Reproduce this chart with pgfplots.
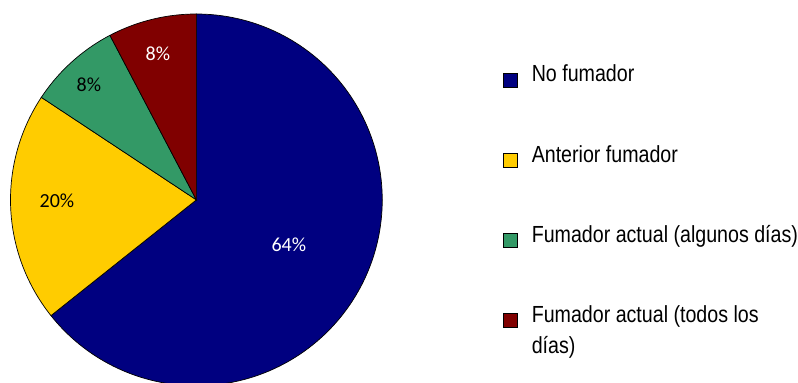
\documentclass[border=0pt]{standalone}
\usepackage{pgfplots}
\pgfplotsset{compat=1.18}
\usepackage{pgfplotstable}
\usepackage{fontspec}
\setmainfont{Liberation Sans}
\newfontfamily\legfont[FakeStretch=0.843]{Liberation Sans}
\newfontfamily\pctfont{Carlito}
\definecolor{cNo}{HTML}{000080}
\definecolor{cAnt}{HTML}{FFCC00}
\definecolor{cAlg}{HTML}{339966}
\definecolor{cTod}{HTML}{800000}

\pgfplotstableread{
cat value
0 64.3
1 20.0
2 8.0
3 7.7
}\pietable
\pgfplotstablegetelem{0}{value}\of\pietable \let\vA\pgfplotsretval
\pgfplotstablegetelem{1}{value}\of\pietable \let\vB\pgfplotsretval
\pgfplotstablegetelem{2}{value}\of\pietable \let\vC\pgfplotsretval
\pgfplotstablegetelem{3}{value}\of\pietable \let\vD\pgfplotsretval
\pgfmathsetmacro{\aA}{3.6*\vA}
\pgfmathsetmacro{\aB}{\aA+3.6*\vB}
\pgfmathsetmacro{\aC}{\aB+3.6*\vC}
\pgfmathsetmacro{\aD}{\aC+3.6*\vD}

\begin{document}%
\begin{tikzpicture}
\begin{axis}[
  scale only axis, width=798pt, height=383pt,
  xmin=0, xmax=798, ymin=0, ymax=383,
  hide axis, clip=true,
  legend style={
    at={(axis cs:503,318)}, anchor=north west,
    draw=none, fill=none, inner sep=0pt, outer sep=0pt,
    font=\legfont\fontsize{23.3}{31}\selectfont,
    row sep=58pt, column sep=14.5pt,
    nodes={inner sep=0pt, outer sep=0pt, text height=17pt, text depth=5pt},
    cells={anchor=base west},
  },
  legend image code/.code={\draw[#1, draw=black, line width=0.6pt] (0pt,-5pt) rectangle (14pt,9pt);},
]
\addplot[fill=cNo, draw=black, line width=0.7pt, domain=0:\aA, samples=150, variable=\t]
  ({196.5+186*sin(\t)},{183+186*cos(\t)}) -- (axis cs:196.5,183) -- cycle;
\addlegendentry{No fumador}
\addplot[fill=cAnt, draw=black, line width=0.7pt, domain=\aA:\aB, samples=60, variable=\t]
  ({196.5+186*sin(\t)},{183+186*cos(\t)}) -- (axis cs:196.5,183) -- cycle;
\addlegendentry{Anterior fumador}
\addplot[fill=cAlg, draw=black, line width=0.7pt, domain=\aB:\aC, samples=30, variable=\t]
  ({196.5+186*sin(\t)},{183+186*cos(\t)}) -- (axis cs:196.5,183) -- cycle;
\addlegendentry{Fumador actual (algunos días)}
\addplot[fill=cTod, draw=black, line width=0.7pt, domain=\aC:\aD, samples=30, variable=\t]
  ({196.5+186*sin(\t)},{183+186*cos(\t)}) -- (axis cs:196.5,183) -- cycle;
\addlegendentry{\begin{tabular}[t]{@{}l@{}}Fumador actual (todos los\\días)\end{tabular}}

\node[font=\pctfont\fontsize{20}{24}\selectfont, text=white] at (axis cs:289,138) {64\%};
\node[font=\pctfont\fontsize{20}{24}\selectfont, text=black] at (axis cs:57,182) {20\%};
\node[font=\pctfont\fontsize{20}{24}\selectfont, text=black] at (axis cs:89,298) {8\%};
\node[font=\pctfont\fontsize{20}{24}\selectfont, text=white] at (axis cs:158,329) {8\%};
\end{axis}
\path[use as bounding box] (current axis.south west) rectangle (current axis.north east);
\end{tikzpicture}%
\end{document}
